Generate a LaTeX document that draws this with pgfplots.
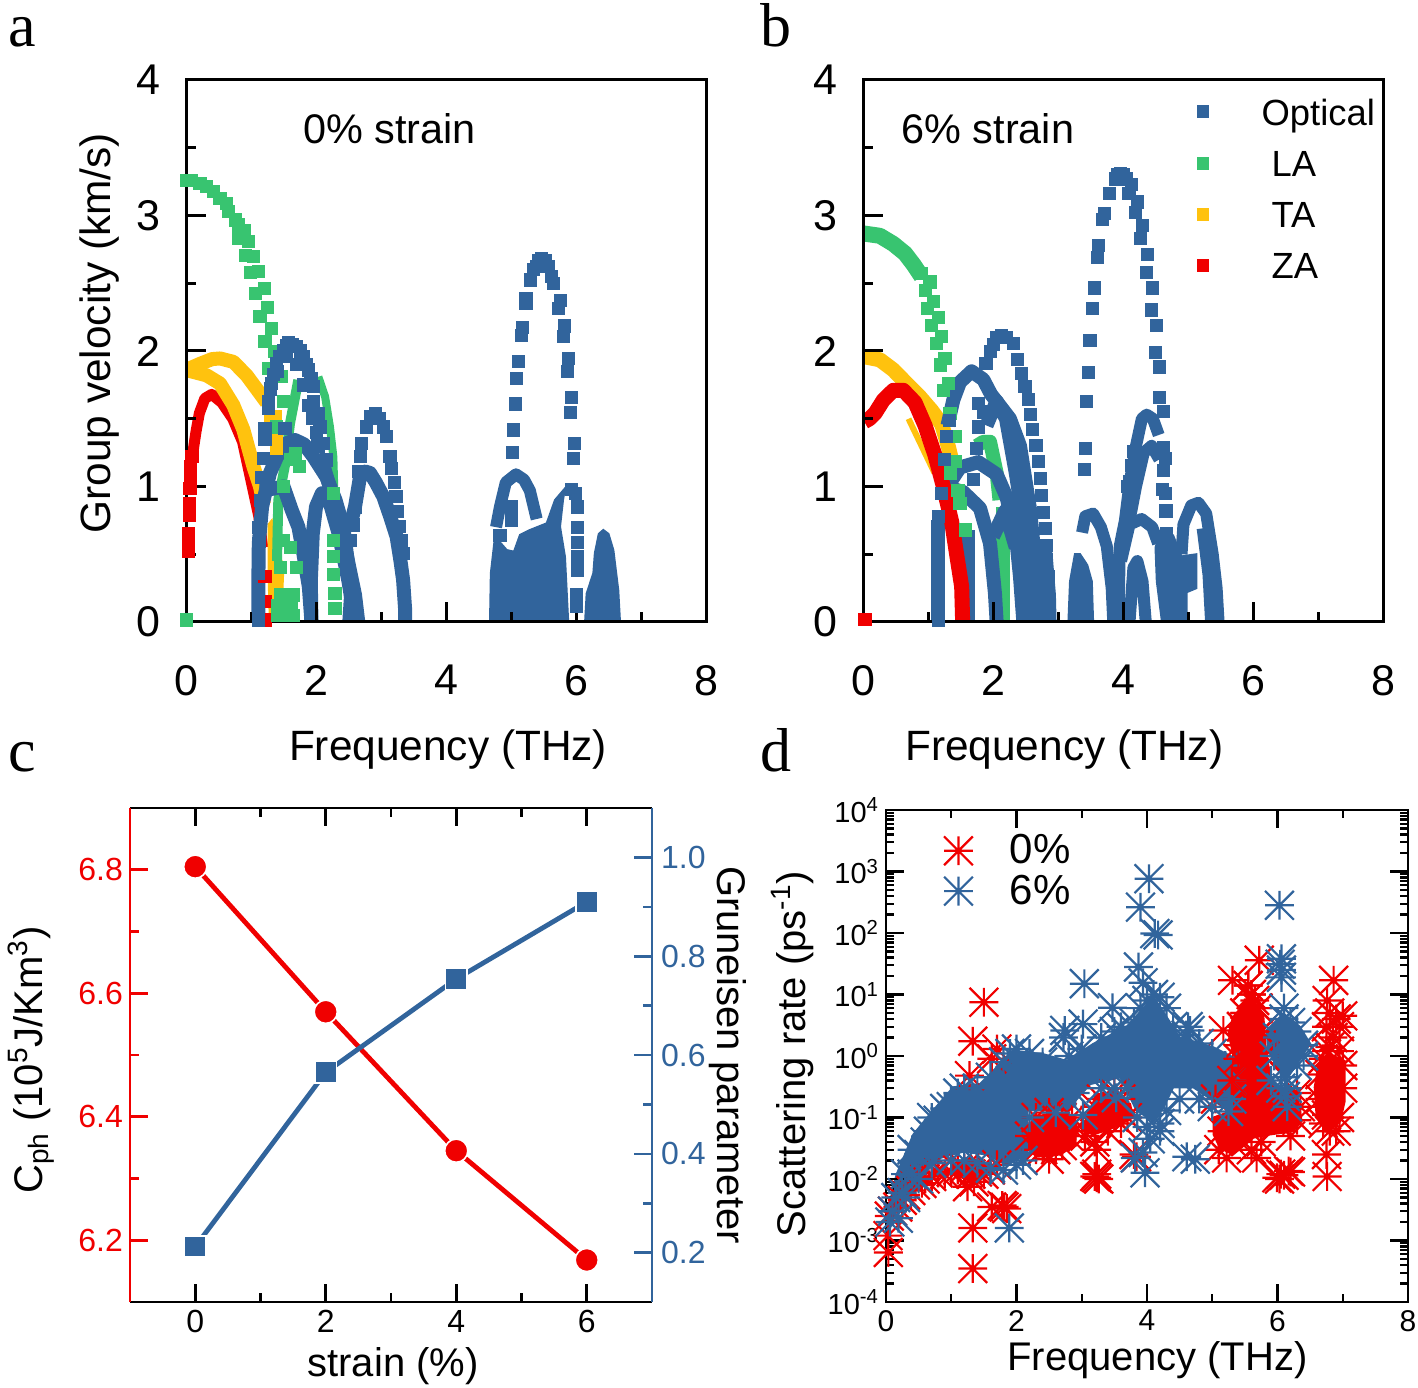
\documentclass[border=0pt]{standalone}
\usepackage{fontspec}
\setmainfont{Liberation Sans}
\newfontfamily\serifl{Liberation Serif}
\usepackage{pgfplots}
\pgfplotsset{compat=1.18}
\definecolor{cblue}{RGB}{49,100,156}
\definecolor{cgreen}{RGB}{56,196,112}
\definecolor{cyellow}{RGB}{255,194,14}
\definecolor{cred}{RGB}{240,0,0}
\newcommand{\fs}[1]{\fontsize{#1}{#1}\selectfont}
\pgfdeclareplotmark{star8}{%
  \pgfpathmoveto{\pgfqpoint{-\pgfplotmarksize}{0pt}}\pgfpathlineto{\pgfqpoint{\pgfplotmarksize}{0pt}}%
  \pgfpathmoveto{\pgfqpoint{0pt}{-\pgfplotmarksize}}\pgfpathlineto{\pgfqpoint{0pt}{\pgfplotmarksize}}%
  \pgfpathmoveto{\pgfqpoint{-\pgfplotmarksize}{-\pgfplotmarksize}}\pgfpathlineto{\pgfqpoint{\pgfplotmarksize}{\pgfplotmarksize}}%
  \pgfpathmoveto{\pgfqpoint{-\pgfplotmarksize}{\pgfplotmarksize}}\pgfpathlineto{\pgfqpoint{\pgfplotmarksize}{-\pgfplotmarksize}}%
  \pgfusepathqstroke}
\pgfplotsset{
  vstyle/.style={
    anchor=south west, scale only axis, width=260pt, height=271pt,
    xmin=0,xmax=8,ymin=0,ymax=4,
    xtick={0,2,4,6,8}, ytick={0,1,2,3,4}, minor x tick num=1, minor y tick num=1,
    xtick pos=bottom, ytick pos=left, tick align=inside,
    major tick length=10pt, minor tick length=5pt,
    tick style={line width=1.5pt,black}, axis line style={line width=1.5pt},
    axis on top,
    /pgf/number format/assume math mode=true,
    tick label style={font=\fs{21.5}},
    xticklabel shift=18pt, yticklabel shift=9.5pt,
    label style={font=\fs{21.2}},
    xlabel={Frequency (THz)},
  },
  pts/.style={forget plot, only marks, mark=square*, mark size=3.05pt, color=#1, mark options={draw=none,fill=#1}},
  band/.style={forget plot, no marks, color=#1, line width=7pt, line join=round, line cap=butt},
  blob/.style={forget plot, no marks, fill=#1, draw=#1, line width=1pt},
}
\begin{document}
\begin{tikzpicture}
\path[use as bounding box] (0,0) rectangle (709pt,693.5pt);
\node[font=\serifl\fs{31},inner sep=0pt,anchor=base] at (11pt,670pt) {a};
\node[font=\serifl\fs{31},inner sep=0pt,anchor=base] at (388pt,670pt) {b};
\node[font=\serifl\fs{31},inner sep=0pt,anchor=base] at (11pt,307.5pt) {c};
\node[font=\serifl\fs{31},inner sep=0pt,anchor=base] at (388pt,307.5pt) {d};
%% panel a
\begin{axis}[vstyle, at={(93pt,382.5pt)},
  xlabel style={at={(axis description cs:.504,-.235)},anchor=center},
  ylabel={Group velocity (km/s)},
  ylabel style={at={(axis description cs:-.166,.533)},anchor=center}]
\node[font=\fs{20.7}] at (axis cs:3.13,3.64) {0\% strain};
% ZA
\addplot[pts=cred] coordinates {(.036,.52)(.036,.56)(.036,.6)(.036,.654)(.05,.79)(.05,.876)(.06,.986)(.065,1.05)(.07,1.146)(.09,1.22)(1.215,.335)(1.215,.15)(1.215,.015)(1.113,.064)(1.113,.14)};
\addplot[band=cred,line width=5.5pt] coordinates {(.09,1.2)(.154,1.405)(.205,1.54)(.29,1.65)(.395,1.68)(.55,1.62)(.72,1.5)(.87,1.33)(1.02,1.0)(1.12,.78)(1.18,.55)};
% TA
\addplot[band=cyellow] coordinates {(0,1.86)(.215,1.905)(.4,1.94)(.523,1.945)(.728,1.92)(.933,1.82)(1.087,1.72)(1.24,1.62)};
\addplot[band=cyellow] coordinates {(0,1.86)(.318,1.82)(.523,1.76)(.728,1.6)(.882,1.42)(1.036,1.15)(1.138,1.0)(1.2,.87)};
\addplot[pts=cyellow] coordinates {(1.3,1.5)(1.369,1.515)(1.395,1.368)(1.395,1.28)};
\addplot[blob=cyellow] coordinates {(1.27,.72)(1.32,.75)(1.42,.5)(1.5,.42)(1.48,.2)(1.4,.1)(1.36,0)(1.29,0)(1.27,.35)} --cycle;
% LA
\addplot[pts=cgreen] coordinates {(0,3.26)(.087,3.257)(.215,3.237)(.318,3.213)(.42,3.176)(.523,3.127)(.626,3.09)(.651,3.028)(.754,2.967)(.805,2.93)(.892,2.888)(.805,2.831)(.959,2.807)(.908,2.708)(1.036,2.70)(.985,2.578)(1.113,2.59)(1.062,2.425)(1.2,2.462)(1.138,2.253)(1.256,2.322)(1.215,2.069)(1.318,2.167)(1.267,1.872)(1.369,1.995)(1.472,1.81)(1.497,1.626)(1.395,1.44)(2.292,.21)(2.292,.1)(2.267,.35)(2.267,.482)(2.267,.6)(2.267,.95)(1.677,1.245)(1.6,1.2)(1.75,1.15)(1.5,.6)(1.6,.55)(1.45,.4)(1.7,.4)(1.45,.2)(1.65,.2)(1.4,.05)(1.5,.05)(1.65,.05)(1.5,1.0)(1.4,.12)(1.55,.14)(1.62,.12)(0,.015)};
\addplot[band=cgreen,line width=5pt] coordinates {(1.4,.45)(1.42,.9)(1.52,1.15)(1.6,1.466)(1.728,1.786)};
\addplot[band=cgreen,line width=4pt] coordinates {(2.036,1.81)(2.14,1.663)(2.215,1.44)(2.267,1.22)(2.28,1.0)};
% optical
\addplot[pts=cblue] coordinates {(1.113,.015)(1.113,.1)(1.113,.2)(1.113,.36)(1.113,.47)(1.113,.58)(1.12,.7)(1.14,.9)(1.164,1.07)(1.19,1.208)(1.215,1.348)(1.215,1.43)(1.267,1.577)(1.267,1.63)(1.318,1.76)(1.34,1.83)(1.395,1.909)(1.44,1.96)(1.497,2.007)(1.54,2.04)(1.574,2.061)(1.64,2.05)(1.703,2.032)(1.76,2.0)(1.805,1.958)(1.85,1.9)(1.882,1.86)(1.92,1.8)(1.959,1.737)(1.959,1.63)(2.036,1.54)(2.06,1.44)(2.11,1.32)(2.164,1.196)
(1.3,1.72)(1.4,1.85)(1.55,1.96)(1.7,1.9)(1.8,1.75)(1.88,1.6)(1.95,1.5)(2.0,1.4)(2.03,1.3)(2.1,1.18)(1.523,1.43)
(2.52,.6)(2.574,.716)(2.6,.85)(2.65,1.11)(2.687,1.22)(2.70,1.32)(2.78,1.44)(2.84,1.52)(2.908,1.54)(2.98,1.5)(3.04,1.44)(3.087,1.368)(3.138,1.22)(3.164,1.134)(3.2,1.03)(3.23,.925)(3.25,.814)(3.28,.708)(3.318,.605)(3.34,.507)
(5.026,1.252)(5.036,1.417)(5.062,1.609)(5.088,1.798)(5.113,1.921)(5.164,2.118)(5.18,2.175)(5.23,2.35)(5.23,2.389)(5.30,2.524)(5.395,2.622)(5.47,2.684)(5.575,2.622)(5.65,2.5)(5.62,2.55)(5.35,2.6)(5.43,2.67)(5.52,2.67)(5.73,2.315)(5.754,2.376)(5.805,2.106)(5.816,2.185)(5.867,1.847)(5.882,1.946)(5.918,1.547)(5.928,1.658)(5.96,1.208)(5.97,1.319)
(6.0,.113)(6.0,.2)(6.02,.38)(6.02,.48)(6.02,.59)(6.02,.7)(6.02,.85)(5.985,.95)(5.93,.98)
(5.01,.75)(5.0,.85)(4.83,.64)};
\addplot[band=cblue] coordinates {(1.113,0)(1.113,.3)(1.12,.58)(1.17,.85)(1.29,1.097)(1.4,1.22)(1.55,1.32)(1.677,1.343)(1.82,1.31)(1.96,1.22)(2.16,1.07)(2.3,.9)(2.42,.70)(2.52,.335)(2.57,0)};
\addplot[band=cblue] coordinates {(1.93,0)(1.92,.3)(1.95,.65)(2.0,.85)(2.09,.95)(2.2,.9)(2.35,.65)(2.5,.3)(2.6,0)};
\addplot[band=cblue] coordinates {(2.1,1.18)(2.3,.85)(2.47,.5)(2.6,.2)(2.65,0)};
\addplot[band=cblue] coordinates {(1.13,.98)(1.3,.98)(1.5,1.0)(1.626,.827)(1.73,.70)(1.805,.507)(1.89,.26)(1.93,0)};
\addplot[band=cblue] coordinates {(2.52,.7)(2.6,.85)(2.68,1.08)(2.76,1.11)(2.83,1.1)(2.92,1.03)(3.036,.925)(3.14,.78)(3.24,.63)(3.3,.45)(3.34,.31)(3.37,.1)(3.37,0)};
\addplot[blob=cblue] coordinates {(2.42,0)(2.48,.45)(2.58,.45)(2.67,0)} --cycle;
\addplot[band=cblue,line width=6pt] coordinates {(4.77,.7)(4.83,.85)(4.92,1.03)(5.077,1.09)(5.2,1.05)(5.29,.97)(5.395,.76)};
\addplot[blob=cblue] coordinates {(4.677,0)(4.69,.36)(4.754,.63)(4.934,.531)(5.046,.519)(5.138,.642)(5.292,.679)(5.549,.728)(5.677,.9)(5.83,.986)(5.8,.9)(5.754,.704)(5.83,.482)(5.88,0)} --cycle;
\addplot[blob=cblue] coordinates {(6.14,0)(6.164,.21)(6.267,.36)(6.29,.507)(6.35,.65)(6.42,.679)(6.5,.65)(6.575,.53)(6.65,.236)(6.677,0)} --cycle;
\end{axis}
%% panel b
\begin{axis}[vstyle, at={(431.5pt,382.5pt)},
  xlabel style={at={(axis description cs:.387,-.235)},anchor=center},
  legend style={draw=none,fill=none,at={(rel axis cs:.63,.98)},anchor=north west,font=\fs{18.2},row sep=10pt},
  legend cell align=left]
\addlegendimage{only marks,mark=square*,mark size=2.9pt,cblue,mark options={draw=none,fill=cblue}}
\addlegendimage{only marks,mark=square*,mark size=2.9pt,cgreen,mark options={draw=none,fill=cgreen}}
\addlegendimage{only marks,mark=square*,mark size=2.9pt,cyellow,mark options={draw=none,fill=cyellow}}
\addlegendimage{only marks,mark=square*,mark size=2.9pt,cred,mark options={draw=none,fill=cred}}
\legend{\hspace*{24.5pt}\raisebox{-2.5pt}{Optical},\hspace*{29.5pt}\raisebox{-2.5pt}{LA},\hspace*{29.5pt}\raisebox{-2.5pt}{TA},\hspace*{29.5pt}\raisebox{-2.5pt}{ZA}}
\node[font=\fs{20.7}] at (axis cs:1.92,3.64) {6\% strain};
% TA
\addplot[band=cyellow,line width=7.5pt] coordinates {(0,1.96)(.26,1.935)(.467,1.86)(.67,1.76)(.877,1.66)(1.056,1.56)(1.21,1.46)(1.31,1.3)(1.36,1.2)};
\addplot[band=cyellow,line width=3pt] coordinates {(.7,1.5)(.9,1.3)(1.1,1.1)};
% LA
\addplot[pts=cgreen] coordinates {(1.08,2.364)(.99,2.315)(1.16,2.248)(1.056,2.19)(1.21,2.105)(1.133,2.056)(1.26,1.946)(1.185,1.897)(1.313,1.761)(1.236,1.712)(1.338,1.54)(1.415,1.368)(1.415,1.183)(1.34,1.1)(1.49,.875)(1.57,.68)(1.46,.97)(1.03,2.51)(.9,2.57)(.96,2.45)};
\addplot[band=cgreen,line width=8pt] coordinates {(0,2.868)(.26,2.85)(.467,2.79)(.646,2.72)(.774,2.64)(.9,2.55)};
\addplot[band=cgreen] coordinates {(1.75,1.3)(1.85,1.33)(1.954,1.33)(2.056,1.1)(2.1,.9)};
\addplot[band=cgreen,line width=7pt] coordinates {(2.16,.85)(2.16,.6)(2.16,0)};
\addplot[pts=cred] coordinates {(.03,.02)};
% optical
\addplot[pts=cblue] coordinates {(2.133,2.118)(2.06,2.1)(2.2,2.1)(1.954,1.995)(1.892,1.91)(2.0,2.05)(2.313,2.057)(2.38,1.94)(2.44,1.835)(2.49,1.737)(2.544,1.643)(2.58,1.535)(2.61,1.424)(2.66,1.306)(2.7,1.183)(2.73,1.06)(2.75,.937)(2.77,.807)(2.8,.69)(2.825,.568)(2.825,.458)(2.85,.335)
(1.77,1.614)(1.77,1.44)(1.75,1.28)(1.7,1.05)(1.85,1.55)
(1.16,.015)(1.16,.58)(1.16,.777)(1.2,.95)(1.25,1.2)(1.287,1.368)(1.328,1.49)
(3.41,1.124)(3.42,1.282)(3.44,1.63)(3.467,1.842)(3.49,2.08)(3.53,2.316)(3.56,2.466)(3.61,2.69)(3.626,2.777)(3.687,2.97)(3.71,3.018)(3.79,3.166)(3.877,3.27)(3.964,3.31)(3.92,3.3)(4.0,3.3)(4.056,3.27)(4.09,3.166)(4.13,3.23)(4.185,3.02)(4.22,3.1)(4.27,2.83)(4.3,2.925)(4.354,2.583)(4.374,2.712)(4.436,2.303)(4.446,2.466)(4.5,1.987)(4.51,2.19)(4.56,1.883)(4.56,1.655)(4.62,1.552)
(4.62,1.287)(4.65,1.21)(4.62,1.12)(4.61,.977)(4.65,.95)(4.66,.82)(4.67,.653)(4.07,1.0)(4.1,1.04)(4.133,1.158)(4.16,1.26)};
\addplot[band=cblue] coordinates {(1.16,0)(1.16,.5)(1.16,.75)};
\addplot[band=cblue] coordinates {(1.3,1.45)(1.39,1.64)(1.492,1.77)(1.67,1.85)(1.85,1.79)(1.97,1.68)(2.1,1.6)(2.26,1.5)(2.415,1.3)(2.57,.83)(2.67,.33)(2.75,0)};
\addplot[band=cblue] coordinates {(1.9,1.45)(2.056,1.63)(2.2,1.5)(2.35,1.1)(2.48,.7)(2.6,.3)(2.65,0)};
\addplot[band=cblue] coordinates {(1.3,1.0)(1.49,1.14)(1.774,1.18)(2.056,1.09)(2.21,.92)(2.364,.58)(2.415,.335)(2.467,0)};
\addplot[band=cblue] coordinates {(1.4,.98)(1.54,.96)(1.8,.84)(1.954,.58)(2.03,.21)(2.056,0)};
\addplot[band=cblue] coordinates {(1.62,0)(1.62,.68)};
\addplot[band=cblue] coordinates {(2.0,.63)(2.185,.82)(2.35,.55)};
\addplot[band=cblue] coordinates {(2.8,.55)(2.86,.2)(2.87,0)};
\addplot[band=cblue,line width=6pt] coordinates {(3.37,.66)(3.42,.78)(3.54,.8)(3.66,.7)(3.75,.56)(3.826,.25)(3.85,0)};
\addplot[blob=cblue] coordinates {(3.16,0)(3.185,.3)(3.26,.5)(3.34,.5)(3.45,.42)(3.52,.3)(3.54,0)} --cycle;
\addplot[band=cblue,line width=6pt] coordinates {(3.93,0)(3.95,.56)(4.03,.75)(4.1,1.02)(4.2,1.3)(4.29,1.5)(4.364,1.53)(4.46,1.5)(4.55,1.38)};
\addplot[band=cblue,line width=6pt] coordinates {(4.1,.75)(4.2,1.0)(4.32,1.25)(4.44,1.3)(4.56,1.2)};
\addplot[band=cblue,line width=6pt] coordinates {(3.97,.45)(4.1,.72)(4.287,.76)(4.45,.7)(4.54,.58)};
\addplot[band=cblue,line width=6pt] coordinates {(4.1,0)(4.16,.4)(4.22,.45)(4.3,.3)(4.35,0)};
\addplot[band=cblue,line width=6pt] coordinates {(4.9,.5)(4.93,.72)(5.05,.86)(5.16,.88)(5.28,.8)(5.38,.5)(5.44,.25)(5.47,0)};
\addplot[blob=cblue] coordinates {(4.6,0)(4.52,.3)(4.5,.55)(4.57,.65)(4.77,.64)(4.9,.484)(5.13,.5)(5.13,.25)(4.98,.22)(4.98,0)} --cycle;
\addplot[band=cblue,line width=5pt] coordinates {(5.21,.69)(5.3,.35)(5.34,0)};
% ZA on top
\addplot[band=cred,line width=7.5pt] coordinates {(.02,1.478)(.1,1.5)(.185,1.54)(.313,1.638)(.467,1.71)(.62,1.71)(.8,1.62)(.954,1.45)(1.108,1.23)(1.236,1.0)(1.364,.74)(1.44,.5)(1.518,.26)(1.533,0)};
\end{axis}
%% panel c
\begin{axis}[anchor=south west, at={(65pt,42.5pt)}, scale only axis, width=261pt, height=247pt,
  xmin=-1,xmax=7,ymin=6.1,ymax=6.9,
  xtick={0,2,4,6}, minor x tick num=1, ytick={6.2,6.4,6.6,6.8}, minor y tick num=1,
  ytick pos=left, tick align=inside, major tick length=9pt, minor tick length=4.5pt,
  separate axis lines,
  x axis line style={line width=1.3pt,black}, y axis line style={line width=1.3pt,cred},
  xtick style={line width=1.3pt,black}, ytick style={line width=1.3pt,cred},
  /pgf/number format/assume math mode=true, /pgf/number format/fixed, /pgf/number format/fixed zerofill, /pgf/number format/precision=1,
  scaled x ticks=false, scaled y ticks=false,
  xticklabel={\pgfmathprintnumber[precision=0]{\tick}},
  x tick label style={font=\fs{16}}, y tick label style={font=\fs{16},text=cred},
  xticklabel shift=.5pt, yticklabel shift=0pt,
  xlabel={strain (\%)}, ylabel={C\textsubscript{ph} (10\textsuperscript{5}J/Km\textsuperscript{3})},
  label style={font=\fs{20}},
  xlabel style={at={(axis description cs:.504,-.13)},anchor=center},
  ylabel style={at={(axis description cs:-.19,.49)},anchor=center}]
\addplot[cred,line width=2.4pt,mark=*,mark size=5.8pt,mark options={fill=cred,draw=white,line width=.8pt}] coordinates {(0,6.805)(2,6.57)(4,6.345)(6,6.168)};
\end{axis}
\begin{axis}[anchor=south west, at={(65pt,42.5pt)}, scale only axis, width=261pt, height=247pt,
  xmin=-1,xmax=7,ymin=.1,ymax=1.1,
  axis x line=none, axis y line*=right, xtick=\empty,
  ytick={.2,.4,.6,.8,1.0}, minor y tick num=1, tick align=inside, major tick length=9pt, minor tick length=4.5pt,
  y axis line style={line width=1.3pt,cblue,-}, ytick style={line width=1.3pt,cblue},
  /pgf/number format/assume math mode=true, /pgf/number format/fixed, /pgf/number format/fixed zerofill, /pgf/number format/precision=1,
  scaled y ticks=false,
  y tick label style={font=\fs{16},text=cblue}, yticklabel shift=1pt,
  ylabel={Gruneisen parameter}, label style={font=\fs{20}},
  ylabel style={at={(axis description cs:1.146,.5)},anchor=center,rotate=180}]
\addplot[cblue,line width=2.4pt,mark=square*,mark size=5.3pt,mark options={fill=cblue,draw=white,line width=.8pt}] coordinates {(0,.212)(2,.565)(4,.754)(6,.91)};
\end{axis}
%% panel d
\begin{axis}[anchor=south west, at={(443pt,42.5pt)}, scale only axis, width=261pt, height=246pt,
  ymode=log, xmin=0,xmax=8,ymin=1e-4,ymax=1e4,
  xtick={0,2,4,6,8}, minor x tick num=1,
  ytick={1e-4,1e-3,1e-2,1e-1,1e0,1e1,1e2,1e3,1e4},
  yticklabels={10\textsuperscript{-4},10\textsuperscript{-3},10\textsuperscript{-2},10\textsuperscript{-1},10\textsuperscript{0},10\textsuperscript{1},10\textsuperscript{2},10\textsuperscript{3},10\textsuperscript{4}},
  minor ytick={2e-4,3e-4,4e-4,5e-4,6e-4,7e-4,8e-4,9e-4,2e-3,3e-3,4e-3,5e-3,6e-3,7e-3,8e-3,9e-3,2e-2,3e-2,4e-2,5e-2,6e-2,7e-2,8e-2,9e-2,.2,.3,.4,.5,.6,.7,.8,.9,2,3,4,5,6,7,8,9,20,30,40,50,60,70,80,90,200,300,400,500,600,700,800,900,2000,3000,4000,5000,6000,7000,8000,9000},
  tick align=inside, major tick length=9pt, minor tick length=4pt,
  tick style={line width=1.1pt,black}, axis line style={line width=1.3pt},
  axis on top,
  /pgf/number format/assume math mode=true,
  x tick label style={font=\fs{15}}, y tick label style={font=\fs{14.5}},
  xticklabel shift=.5pt,
  xlabel={Frequency (THz)}, ylabel={Scattering rate (ps\textsuperscript{-1})},
  label style={font=\fs{20}},
  xlabel style={at={(axis description cs:.52,-.118)},anchor=center},
  ylabel style={at={(axis description cs:-.18,.504)},anchor=center},
  legend style={draw=none,fill=none,at={(rel axis cs:.099,.967)},anchor=north west,font=\fs{21},row sep=0pt},
  legend cell align=left]
\addlegendimage{only marks,mark=star8,mark size=7.2pt,cred,line width=1.1pt}
\addlegendimage{only marks,mark=star8,mark size=7.2pt,cblue,line width=1.1pt}
\legend{\hspace*{16.5pt}0\%,\hspace*{16.5pt}6\%}
% 0% strain
\addplot[forget plot,only marks,mark=star8,mark size=7.2pt,cred,line width=1.1pt] coordinates {
(.05,.0025)(.1,.003)(.18,.0035)(.25,.0045)(.3,.0055)(.38,.0065)(.45,.008)(.55,.0085)(.6,.01)(.7,.011)(.8,.0125)(.9,.012)(1.0,.013)(1.1,.014)(1.2,.015)(1.3,.012)(1.35,.009)(1.4,.013)(1.5,.012)(1.6,.014)(1.7,.017)(1.25,.0075)
(1.5,7.5)(1.33,1.74)(1.7,1.3)(1.62,.9)(1.28,.48)(1.33,.0016)(1.33,3.5e-4)(1.81,.0035)(1.62,.0035)(1.85,.0033)(1.78,.0037)(.036,6.4e-4)(.03,.0012)
(2.2,.05)(2.3,.03)(2.4,.03)(2.5,.021)(2.6,.03)(2.7,.035)(2.8,.05)(2.9,.06)(2.3,.1)(2.5,.12)(2.7,.1)(2.85,.1)
(3.05,.05)(3.2,.04)(3.23,.03)(3.23,.0105)(3.2,.011)(3.26,.01)(3.23,.012)(3.4,.06)(3.5,.1)(3.6,.08)(3.7,.1)(3.84,.023)(3.8,.025)(3.3,.2)(3.5,.25)(3.6,.2)(3.2,.15)
(5.1,.03)(5.22,.022)(5.15,.06)(5.3,.04)(5.68,.022)(5.6,.03)(5.75,.04)(5.99,.0105)(6.05,.012)(6.17,.0135)(6.2,.013)(6.1,.0115)(6.03,.01)(6.2,.05)(6.3,.09)(6.35,.15)(6.3,.25)(5.31,17)(5.72,36)(5.17,2.6)(5.6,10)(5.55,14)(5.65,8)(5.5,5)(5.7,6)(5.45,3)(5.5,2.5)(5.75,2.5)(5.8,1)(5.4,1.5)(5.05,.2)(5.9,.1)
(6.86,17)(6.76,8)(6.8,5)(6.9,4)(6.95,3)(6.75,3)(6.85,2)(6.8,1.4)(7.0,4.5)(6.75,1.2)(6.7,.9)(6.95,1.2)(6.75,.025)(6.76,.011)(6.8,.06)(6.7,.08)(6.9,.06)(6.95,.1)(6.65,.2)(7.0,.3)(7.0,.7)(6.65,.5)(6.75,.11)};
\addplot[blob=cred] coordinates {(1.03,.015)(1.29,.022)(1.54,.017)(1.49,.0117)(1.29,.0098)(1.08,.011)} --cycle;
\addplot[blob=cred] coordinates {(2.16,.06)(2.31,.106)(2.72,.12)(2.92,.087)(2.9,.036)(2.67,.025)(2.31,.023)(2.16,.032)} --cycle;
\addplot[blob=cred] coordinates {(3.05,.087)(3.23,.24)(3.48,.24)(3.74,.166)(3.79,.1)(3.48,.068)(3.18,.053)(3.02,.06)} --cycle;
\addplot[blob=cred] coordinates {(6.63,.74)(6.8,1.07)(7.03,.83)(7.03,.186)(6.96,.087)(6.75,.06)(6.6,.1)(6.57,.31)} --cycle;
% 6% strain
\addplot[forget plot,only marks,mark=star8,mark size=7.2pt,cblue,line width=1.1pt] coordinates {
(4.03,764)(3.90,263)(4.12,98)(4.17,93)(6.03,282)(6.06,38)(6.06,25)(6.06,19)(6.04,31)(3.87,28)(3.94,15.5)(3.04,15)(3.47,6.1)(3.02,3.3)(2.74,2.6)(2.72,2)(4.66,2.6)(4.63,3)(4.2,.06)(3.94,.027)(3.82,.022)(3.97,.0126)(4.61,.023)(4.74,.021)(3.02,.11)(3.53,.21)(5.25,.125)(6.12,.22)(6.12,.45)(1.89,.0016)(.19,.0023)(.06,.002)
(.1,.003)(.15,.005)(.25,.006)(.3,.012)(.4,.012)(.4,.03)(.5,.025)(.6,.04)(.65,.06)(.7,.1)(.8,.09)(.9,.14)(1,.15)(1.1,.25)(1.2,.3)(1.4,.3)(1.6,.45)(1.8,.8)(1.9,1.1)(2.0,1.3)(2.2,1.1)(2.4,.8)(1.0,.02)(1.2,.02)(1.4,.018)(1.6,.015)(1.8,.014)(2.0,.017)(2.1,.02)(.7,.018)(.5,.01)(.3,.005)(2.2,.1)(2.6,.12)(2.9,.25)(2.8,1)(3.0,1.3)(3.3,2)(3.5,2.5)(3.6,3)(3.8,3.5)(3.9,6)(4.0,8)(4.1,10)(4.2,9)(4.3,6)(4.4,3)(4.6,2.2)(4.8,1.6)(5,1.1)(5.2,.7)(5.3,.4)(5.3,.2)(5,.15)(4.8,.2)(4.5,.2)(4.3,.13)(4.2,.08)(4.0,.07)(3.85,.1)(3.7,.3)(3.5,.3)(3.3,.3)(4.05,.045)};
\addplot[blob=cblue] coordinates {(.01,.0026)(.16,.0117)(.42,.053)(.67,.112)(1.03,.31)(1.44,.35)(1.95,1.22)(2.41,1.07)(2.77,.83)(3.18,1.58)(3.69,3)(4.1,9.1)(4.3,4.3)(4.5,2)(5.02,1.38)(5.32,.95)(5.43,.186)(5.37,.112)(5.02,.186)(4.71,.31)(4.4,.31)(4.25,.145)(4.1,.087)(3.84,.13)(3.59,.45)(3.13,.35)(2.77,.13)(2.16,.13)(2.16,.025)(1.85,.017)(1.54,.025)(1.19,.028)(.83,.022)(.52,.0117)(.21,.0043)(.06,.0016)} --cycle;
% red column over the blue
\addplot[blob=cred] coordinates {(5.02,.053)(5.02,.1)(5.32,.13)(5.32,1.07)(5.25,2.3)(5.32,4.3)(5.58,9.1)(5.78,4.9)(5.83,.95)(5.94,.31)(6.29,.27)(6.37,.087)(6.24,.06)(5.885,.053)(5.63,.047)(5.32,.025)(5.12,.032)} --cycle;
\addplot[forget plot,only marks,mark=star8,mark size=7.2pt,cred,line width=1.1pt] coordinates {(5.55,14)(5.6,10)(5.5,5)(5.7,6)(5.3,.4)(5.45,3)(5.75,2.5)(5.4,.9)(5.8,1)};
\addplot[blob=cblue] coordinates {(5.83,2.6)(6.09,4.9)(6.34,3)(6.5,1.58)(6.29,.74)(6.13,.4)(5.99,.66)(5.86,1.23)} --cycle;
\addplot[forget plot,only marks,mark=star8,mark size=7.2pt,cblue,line width=1.1pt] coordinates {(5.9,.4)(5.95,1)(6.0,2)(6.1,4)(6.2,3.5)(6.3,2.5)(6.4,1.5)(6.4,1)(6.3,.7)(6.15,.3)(6.05,.3)(6.15,.15)(6.1,6)};
\end{axis}
\end{tikzpicture}
\end{document}
